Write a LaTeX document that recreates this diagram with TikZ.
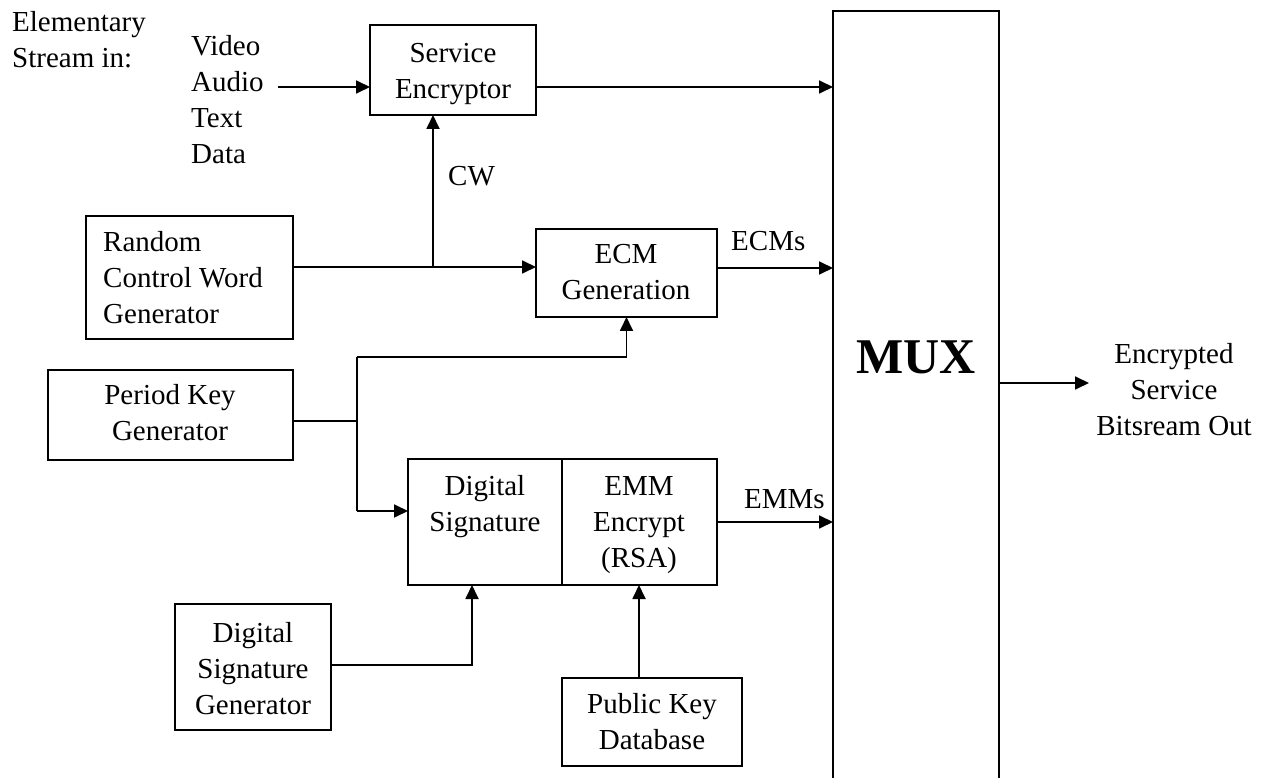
\documentclass[tikz,border=0pt]{standalone}
\usepackage{fontspec}
\setmainfont{Liberation Serif}
\usetikzlibrary{arrows.meta}
\newcommand{\mlines}[2][c]{\begin{tabular}[t]{@{}#1@{}}#2\end{tabular}}
\begin{document}
\begin{tikzpicture}[x=1pt,y=-1pt,
  box/.style={draw, line width=1.8pt, inner sep=0pt, outer sep=0pt, anchor=north west},
  txt/.style={inner sep=0pt, anchor=base, font=\fontsize{29}{36}\selectfont},
  txtl/.style={txt, anchor=base west},
  wire/.style={line width=1.8pt},
  arr/.style={wire, -{Triangle[length=14pt,width=13pt]}},
]
\useasboundingbox (0,0) rectangle (1262,778);

% boxes
\node[box, minimum width=166pt, minimum height=90pt]  (se)   at (370,25)  {};
\node[box, minimum width=207pt, minimum height=123pt] (rcwg) at (86,216)  {};
\node[box, minimum width=181pt, minimum height=88pt]  (ecm)  at (536,229) {};
\node[box, minimum width=245pt, minimum height=90pt]  (pkg)  at (48,370)  {};
\node[box, minimum width=154pt, minimum height=126pt] (ds)   at (408,459) {};
\node[box, minimum width=155pt, minimum height=126pt] (emm)  at (562,459) {};
\node[box, minimum width=156pt, minimum height=126pt] (dsg)  at (175,604) {};
\node[box, minimum width=180pt, minimum height=88pt]  (pkd)  at (562,678) {};
\node[box, minimum width=166pt, minimum height=800pt] (mux)  at (833,11)  {};

% texts
\node[txtl] (elem)    at (12,32)   {\mlines[l]{Elementary\\Stream in:}};
\node[txtl] (streams) at (191,56)  {\mlines[l]{Video\\Audio\\Text\\Data}};
\node[txt]  (setxt)   at (453,63)  {\mlines{Service\\Encryptor}};
\node[txtl] (cw)      at (448,186) {CW};
\node[txtl] (rcwgtxt) at (103,252) {\mlines[l]{Random\\Control Word\\Generator}};
\node[txt]  (ecmtxt)  at (626,264) {\mlines{ECM\\Generation}};
\node[txtl] (ecms)    at (731,251) {ECMs};
\node[txt]  (pkgtxt)  at (170,404) {\mlines{Period Key\\Generator}};
\node[txt]  (dstxt)   at (485,495) {\mlines{Digital\\Signature}};
\node[txt]  (emmtxt)  at (639,495) {\mlines{EMM\\Encrypt\\(RSA)}};
\node[txtl] (emms)    at (744,508) {EMMs};
\node[txt]  (dsgtxt)  at (253,642) {\mlines{Digital\\Signature\\Generator}};
\node[txt]  (pkdtxt)  at (652,713) {\mlines{Public Key\\Database}};
\node[txt, font=\bfseries\fontsize{50}{52}\selectfont] (muxtxt) at (916,373) {MUX};
\node[txt]  (outtxt)  at (1174,363) {\mlines{Encrypted\\Service\\Bitsream Out}};

% junctions
\coordinate (ain) at (278,87);
\coordinate (j1)  at (433,267);
\coordinate (j2)  at (357,421);
\coordinate (j3)  at (357,357);
\coordinate (j4)  at (357,511);
\coordinate (j5)  at (472,665);
\coordinate (j6)  at (639,678);
\coordinate (ecmout) at ([yshift=5pt]ecm.east);
\coordinate (out) at (1089,383);

% connectors
\draw[arr] (ain) -- (ain -| se.west);
\draw[arr] (se.east |- ain) -- (ain -| mux.west);
\draw[wire] (rcwg.east |- j1) -- (j1);
\draw[arr] (j1) -- (j1 -| ecm.west);
\draw[arr] (j1) -- (j1 |- se.south);
\draw[arr] (ecmout) -- (ecmout -| mux.west);
\draw[wire] (pkg.east |- j2) -- (j2);
\draw[wire] (j3) -- (j4);
\draw[arr] (j3) -| (ecm.south);
\draw[arr] (j4) -- (j4 -| ds.west);
\draw[arr] (emm.east) -- (emm.east -| mux.west);
\draw[arr] (dsg.east |- j5) -- (j5) -- (j5 |- ds.south);
\draw[arr] (j6 |- pkd.north) -- (j6 |- emm.south);
\draw[arr] (mux.east |- out) -- (out);
\end{tikzpicture}
\end{document}
